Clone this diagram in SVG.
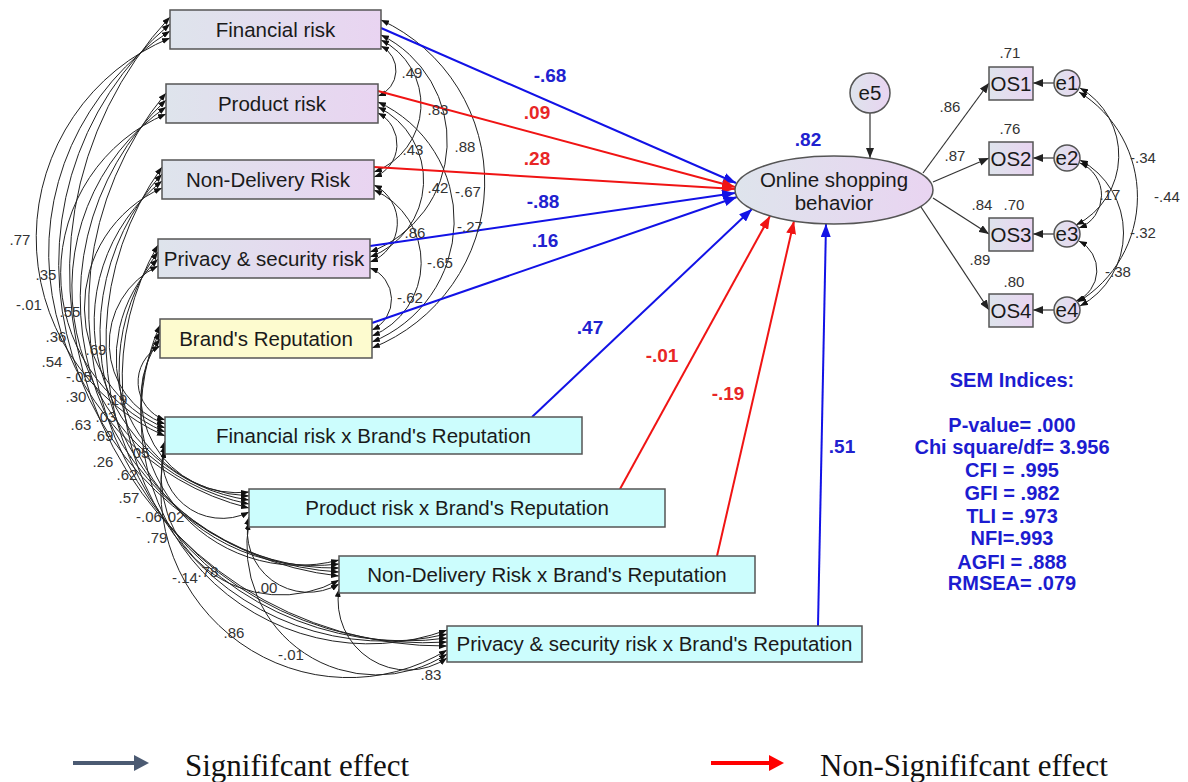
<svg xmlns="http://www.w3.org/2000/svg" width="1188" height="782" viewBox="0 0 1188 782">
<style>
.box{stroke:#555;stroke-width:1.5}
.n{font-family:"Liberation Sans",Arial,sans-serif;font-size:20.5px;fill:#1a1a1a;text-anchor:middle}
.s{font-family:"Liberation Sans",Arial,sans-serif;font-size:15px;fill:#333;text-anchor:middle}
.cb{font-family:"Liberation Sans",Arial,sans-serif;font-size:19px;font-weight:bold;fill:#2121cf;text-anchor:middle}
.cr{font-family:"Liberation Sans",Arial,sans-serif;font-size:19px;font-weight:bold;fill:#e82626;text-anchor:middle}
.sem{font-family:"Liberation Sans",Arial,sans-serif;font-size:20px;font-weight:bold;fill:#1c1cd0;text-anchor:middle}
.leg{font-family:"Liberation Serif","Times New Roman",serif;font-size:31px;fill:#111}
.cov{fill:none;stroke:#222;stroke-width:1;marker-start:url(#ac);marker-end:url(#ac)}
.pb{fill:none;stroke:#1212e6;stroke-width:2;marker-end:url(#ab)}
.pr{fill:none;stroke:#f01414;stroke-width:2;marker-end:url(#ar)}
.pk{fill:none;stroke:#333;stroke-width:1.2;marker-end:url(#ak)}
</style>
<defs>
<linearGradient id="gl" x1="0" y1="0" x2="1" y2="0"><stop offset="0" stop-color="#dee4ec"/><stop offset="1" stop-color="#e9d4f1"/></linearGradient>
<marker id="ab" markerUnits="userSpaceOnUse" markerWidth="13" markerHeight="10" refX="13" refY="5" orient="auto"><path d="M0,0 L13,5 L0,10 z" fill="#1212e6"/></marker>
<marker id="ar" markerUnits="userSpaceOnUse" markerWidth="13" markerHeight="10" refX="13" refY="5" orient="auto"><path d="M0,0 L13,5 L0,10 z" fill="#f01414"/></marker>
<marker id="ak" markerUnits="userSpaceOnUse" markerWidth="10" markerHeight="8" refX="10" refY="4" orient="auto"><path d="M0,0 L10,4 L0,8 z" fill="#222"/></marker>
<marker id="ac" markerUnits="userSpaceOnUse" markerWidth="8" markerHeight="6" refX="8" refY="3" orient="auto-start-reverse"><path d="M0,0 L8,3 L0,6 z" fill="#111"/></marker>
</defs>
<rect width="1188" height="782" fill="#fff"/>

<g id="connectors">
<!-- left covariance arcs -->
<path class="cov" d="M170,17 A374,374 0 0 0 447,646"/>
<path class="cov" d="M170,24 A314,314 0 0 0 339,576"/>
<path class="cov" d="M170,31 A263,263 0 0 0 249,508"/>
<path class="cov" d="M170,38 A216.5,216.5 0 0 0 165,436"/>
<path class="cov" d="M166,93 A335.5,335.5 0 0 0 447,642"/>
<path class="cov" d="M166,100 A273.5,273.5 0 0 0 339,572"/>
<path class="cov" d="M166,107 A220.6,220.6 0 0 0 249,504"/>
<path class="cov" d="M166,114 A173,173 0 0 0 165,432"/>
<path class="cov" d="M162,167 A299.5,299.5 0 0 0 447,638"/>
<path class="cov" d="M162,174 A235,235 0 0 0 339,568"/>
<path class="cov" d="M162,181 A180,180 0 0 0 249,500"/>
<path class="cov" d="M162,188 A130.6,130.6 0 0 0 165,428"/>
<path class="cov" d="M158,245 A263.6,263.6 0 0 0 447,634"/>
<path class="cov" d="M158,252 A196.2,196.2 0 0 0 339,564"/>
<path class="cov" d="M158,259 A138.1,138.1 0 0 0 249,496"/>
<path class="cov" d="M158,266 A86,86 0 0 0 165,424"/>
<path class="cov" d="M160,325 A227.8,227.8 0 0 0 447,630"/>
<path class="cov" d="M160,332 A157.7,157.7 0 0 0 339,560"/>
<path class="cov" d="M160,339 A96.3,96.3 0 0 0 249,492"/>
<path class="cov" d="M160,346 A40.4,40.4 0 0 0 165,420"/>
<path class="cov" d="M165,441 A59.8,59.8 0 0 0 249,512"/>
<path class="cov" d="M165,445 A119.8,119.8 0 0 0 339,580"/>
<path class="cov" d="M165,450 A188.1,188.1 0 0 0 447,650"/>
<path class="cov" d="M249,517 A61,61 0 0 0 339,584"/>
<path class="cov" d="M249,522 A129.5,129.5 0 0 0 447,654"/>
<path class="cov" d="M339,589 A69.7,69.7 0 0 0 447,658"/>
<!-- right covariance arcs -->
<path class="cov" d="M381,46 A27.3,27.3 0 0 1 378,96"/>
<path class="cov" d="M381,40 A72,72 0 0 1 374,172"/>
<path class="cov" d="M381,35 A118.2,118.2 0 0 1 370,252"/>
<path class="cov" d="M381,20 A178.5,178.5 0 0 1 372,348"/>
<path class="cov" d="M378,113 A35,35 0 0 1 374,177"/>
<path class="cov" d="M378,107 A81.7,81.7 0 0 1 370,257"/>
<path class="cov" d="M378,102 A130.6,130.6 0 0 1 372,342"/>
<path class="cov" d="M374,185 A42,42 0 0 1 370,262"/>
<path class="cov" d="M374,190 A79.4,79.4 0 0 1 372,336"/>
<path class="cov" d="M370,268 A33.7,33.7 0 0 1 372,330"/>
<!-- error covariances -->
<path class="cov" d="M1080,88 A78,78 0 0 1 1076,225"/>
<path class="cov" d="M1079,92 A123,123 0 0 1 1078,302"/>
<path class="cov" d="M1080,163 A35,35 0 0 1 1079,228"/>
<path class="cov" d="M1080,160 A83,83 0 0 1 1080,306"/>
<path class="cov" d="M1079,241 A33,33 0 0 1 1076,301"/>
<!-- structural paths -->
<path class="pb" d="M381,28 L736,183"/>
<path class="pr" d="M378,91 L735,187"/>
<path class="pr" d="M374,167 L735,189"/>
<path class="pb" d="M370,246 L735,193"/>
<path class="pb" d="M372,323 L737,197"/>
<path class="pb" d="M532,417 L752,209"/>
<path class="pr" d="M620,489 L770,216"/>
<path class="pr" d="M717,556 L794,221"/>
<path class="pb" d="M818,626 L826,224"/>
<!-- measurement -->
<path class="pk" d="M870,113 L870,158"/>
<path class="pk" d="M923,173 L989,83"/>
<path class="pk" d="M933,182 L989,158"/>
<path class="pk" d="M933,198 L989,234"/>
<path class="pk" d="M921,207 L989,310"/>
<path class="pk" d="M1054,83 L1033,83"/>
<path class="pk" d="M1054,158 L1033,158"/>
<path class="pk" d="M1054,234 L1033,234"/>
<path class="pk" d="M1054,310 L1033,310"/>
</g>

<g id="n-fr"><rect class="box" x="170" y="10" width="211" height="39" fill="url(#gl)"/><text class="n" x="275.5" y="37">Financial risk</text></g>
<g id="n-pr"><rect class="box" x="166" y="84" width="212" height="39" fill="url(#gl)"/><text class="n" x="272" y="111">Product risk</text></g>
<g id="n-nd"><rect class="box" x="162" y="160" width="212" height="39" fill="url(#gl)"/><text class="n" x="268" y="187">Non-Delivery Risk</text></g>
<g id="n-ps"><rect class="box" x="158" y="239" width="212" height="39" fill="url(#gl)"/><text class="n" x="264" y="266">Privacy &amp; security risk</text></g>
<g id="n-br"><rect class="box" x="160" y="319" width="212" height="39" fill="#fdfbcf"/><text class="n" x="266" y="346">Brand's Reputation</text></g>
<g id="n-frbr"><rect class="box" x="165" y="417" width="417" height="37" fill="#ccfdfd"/><text class="n" x="373.5" y="443">Financial risk x Brand's Reputation</text></g>
<g id="n-prbr"><rect class="box" x="249" y="489" width="416" height="38" fill="#ccfdfd"/><text class="n" x="457" y="515">Product risk x Brand's Reputation</text></g>
<g id="n-ndbr"><rect class="box" x="339" y="556" width="416" height="37" fill="#ccfdfd"/><text class="n" x="547" y="582">Non-Delivery Risk x Brand's Reputation</text></g>
<g id="n-psbr"><rect class="box" x="447" y="626" width="415" height="36" fill="#ccfdfd"/><text class="n" x="654.5" y="651">Privacy &amp; security risk x Brand's Reputation</text></g>
<g id="n-osb"><ellipse class="box" cx="834" cy="190" rx="99" ry="34" fill="url(#gl)"/><text class="n" x="834" y="187">Online shopping</text><text class="n" x="834" y="210">behavior</text></g>
<g id="n-e5"><circle class="box" cx="870" cy="93" r="20" fill="url(#gl)"/><text class="n" x="870" y="100">e5</text></g>
<g id="n-os1"><rect class="box" x="989" y="67" width="44" height="33" fill="url(#gl)"/><text class="n" x="1011" y="91">OS1</text></g>
<g id="n-os2"><rect class="box" x="989" y="142" width="44" height="33" fill="url(#gl)"/><text class="n" x="1011" y="166">OS2</text></g>
<g id="n-os3"><rect class="box" x="989" y="218" width="44" height="33" fill="url(#gl)"/><text class="n" x="1011" y="242">OS3</text></g>
<g id="n-os4"><rect class="box" x="989" y="294" width="44" height="33" fill="url(#gl)"/><text class="n" x="1011" y="318">OS4</text></g>
<g id="n-e1"><circle class="box" cx="1067" cy="83" r="13" fill="url(#gl)"/><text class="n" x="1067" y="90">e1</text></g>
<g id="n-e2"><circle class="box" cx="1067" cy="158" r="13" fill="url(#gl)"/><text class="n" x="1067" y="165">e2</text></g>
<g id="n-e3"><circle class="box" cx="1067" cy="234" r="13" fill="url(#gl)"/><text class="n" x="1067" y="241">e3</text></g>
<g id="n-e4"><circle class="box" cx="1067" cy="310" r="13" fill="url(#gl)"/><text class="n" x="1067" y="317">e4</text></g>

<g id="path-labels">
<text class="cb" x="550" y="82">-.68</text>
<text class="cr" x="537" y="119">.09</text>
<text class="cr" x="537" y="165">.28</text>
<text class="cb" x="543" y="208">-.88</text>
<text class="cb" x="545" y="247">.16</text>
<text class="cb" x="590" y="334">.47</text>
<text class="cr" x="662" y="362">-.01</text>
<text class="cr" x="728" y="400">-.19</text>
<text class="cb" x="842" y="453">.51</text>
<text class="cb" x="808" y="146">.82</text>
</g>

<g id="cov-labels">
<text class="s" x="412" y="78">.49</text>
<text class="s" x="438" y="115">.83</text>
<text class="s" x="413" y="155">.43</text>
<text class="s" x="465" y="152">.88</text>
<text class="s" x="438" y="193">.42</text>
<text class="s" x="468" y="197">-.67</text>
<text class="s" x="415" y="238">.86</text>
<text class="s" x="470" y="232">-.27</text>
<text class="s" x="440" y="268">-.65</text>
<text class="s" x="410" y="303">-.62</text>
<text class="s" x="20" y="245">.77</text>
<text class="s" x="46" y="280">.35</text>
<text class="s" x="29" y="310">-.01</text>
<text class="s" x="70" y="317">.55</text>
<text class="s" x="56" y="342">.36</text>
<text class="s" x="52" y="367">.54</text>
<text class="s" x="96" y="355">.69</text>
<text class="s" x="79" y="382">-.05</text>
<text class="s" x="76" y="402">.30</text>
<text class="s" x="117" y="405">.19</text>
<text class="s" x="81" y="430">.63</text>
<text class="s" x="106" y="422">.03</text>
<text class="s" x="103" y="441">.69</text>
<text class="s" x="139" y="458">.05</text>
<text class="s" x="103" y="467">.26</text>
<text class="s" x="127" y="480">.62</text>
<text class="s" x="129" y="503">.57</text>
<text class="s" x="149" y="522">-.06</text>
<text class="s" x="174" y="522">.02</text>
<text class="s" x="157" y="543">.79</text>
<text class="s" x="185" y="583">-.14</text>
<text class="s" x="208" y="577">.78</text>
<text class="s" x="267" y="593">.00</text>
<text class="s" x="234" y="638">.86</text>
<text class="s" x="291" y="660">-.01</text>
<text class="s" x="431" y="680">.83</text>
<text class="s" x="1010" y="58">.71</text>
<text class="s" x="1010" y="134">.76</text>
<text class="s" x="982" y="210">.84</text>
<text class="s" x="1014" y="210">.70</text>
<text class="s" x="1014" y="287">.80</text>
<text class="s" x="950" y="112">.86</text>
<text class="s" x="955" y="161">.87</text>
<text class="s" x="980" y="265">.89</text>
<text class="s" x="1143" y="163">-.34</text>
<text class="s" x="1110" y="200">.17</text>
<text class="s" x="1167" y="202">-.44</text>
<text class="s" x="1143" y="238">-.32</text>
<text class="s" x="1118" y="277">-.38</text>
</g>

<g id="sem-indices">
<text class="sem" x="1012" y="387">SEM Indices:</text>
<text class="sem" x="1012" y="432">P-value= .000</text>
<text class="sem" x="1012" y="454">Chi square/df= 3.956</text>
<text class="sem" x="1012" y="477">CFI = .995</text>
<text class="sem" x="1012" y="500">GFI = .982</text>
<text class="sem" x="1012" y="523">TLI = .973</text>
<text class="sem" x="1012" y="545">NFI=.993</text>
<text class="sem" x="1012" y="569">AGFI = .888</text>
<text class="sem" x="1012" y="590">RMSEA= .079</text>
</g>

<g id="legend">
<path d="M73,763 L136,763" stroke="#4b5a72" stroke-width="4"/>
<path d="M134,755 L149,763 L134,771 z" fill="#4b5a72"/>
<text class="leg" x="185" y="776">Signififcant effect</text>
<path d="M711,763 L771,763" stroke="#ff0000" stroke-width="4"/>
<path d="M769,755 L784,763 L769,771 z" fill="#ff0000"/>
<text class="leg" x="820" y="776">Non-Signififcant effect</text>
</g>
</svg>
